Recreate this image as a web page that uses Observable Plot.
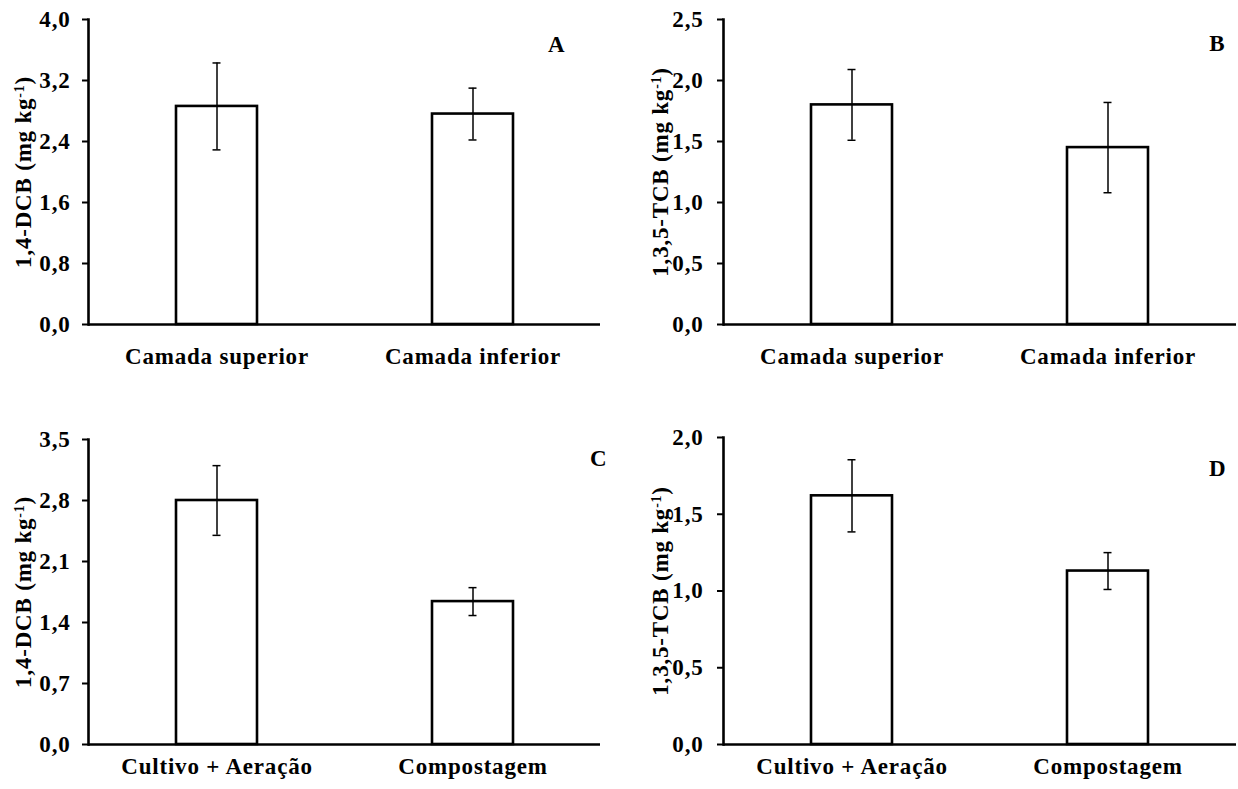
<!DOCTYPE html>
<html>
<head>
<meta charset="utf-8">
<script src="https://cdn.jsdelivr.net/npm/d3@7"></script>
<script src="https://cdn.jsdelivr.net/npm/@observablehq/plot@0.6"></script>
<style>
  body { margin: 0; background: white; }
  #wrap { position: relative; width: 1238px; height: 789px; background: white; overflow: hidden; }
  .panel { position: absolute; }
</style>
</head>
<body>
<div id="wrap"></div>
<script>
// ---- data ----
const categoriesTop = ["Camada superior", "Camada inferior"];
const categoriesBottom = ["Cultivo + Aeração", "Compostagem"];

const valuesA = [2.86, 2.76];
const errorsA = [0.57, 0.34];
const valuesB = [1.80, 1.45];
const errorsB = [0.29, 0.37];
const valuesC = [2.80, 1.64];
const errorsC = [0.40, 0.16];
const valuesD = [1.62, 1.13];
const errorsD = [0.235, 0.12];

const ticksA = [0, 0.8, 1.6, 2.4, 3.2, 4.0];
const ticksB = [0, 0.5, 1.0, 1.5, 2.0, 2.5];
const ticksC = [0, 0.7, 1.4, 2.1, 2.8, 3.5];
const ticksD = [0, 0.5, 1.0, 1.5, 2.0];

const labelDCB = "1,4-DCB (mg kg-1)";
const labelTCB = "1,3,5-TCB (mg kg-1)";
const panelLetters = ["A", "B", "C", "D"];

const FONT = "'Liberation Serif', 'Times New Roman', serif";
const fmt = d => d.toFixed(1).replace(".", ",");

function panel(o) {
  const data = o.cats.map((c, i) => ({cat: c, v: o.values[i], e: o.errors[i]}));
  const plot = Plot.plot({
    width: o.width, height: o.height,
    marginLeft: o.ml, marginRight: o.mr, marginTop: o.mt, marginBottom: o.mb,
    style: {fontFamily: FONT, fontSize: "23px", fontWeight: "bold", color: "black",
            background: "white", overflow: "visible", letterSpacing: "0.8px"},
    x: {type: "band", domain: o.cats, paddingInner: 0.684, paddingOuter: 0.342},
    y: {domain: [0, o.ticks[o.ticks.length - 1]]},
    marks: [
      Plot.barY(data, {x: "cat", y: "v", fill: "white", stroke: "black", strokeWidth: 2.6}),
      Plot.ruleX(data, {x: "cat", y1: d => d.v - d.e, y2: d => d.v + d.e, stroke: "black", strokeWidth: 1.5}),
      Plot.tickY(data, {x: "cat", y: d => d.v + d.e, insetLeft: 36.5, insetRight: 36.5, stroke: "black", strokeWidth: 1.5}),
      Plot.tickY(data, {x: "cat", y: d => d.v - d.e, insetLeft: 36.5, insetRight: 36.5, stroke: "black", strokeWidth: 1.5}),
      Plot.axisY({ticks: o.ticks, tickFormat: fmt, tickSize: 6, tickPadding: o.tp, strokeWidth: 2,
                  label: o.label, labelAnchor: "center", labelOffset: o.lo, labelArrow: "none"}),
      Plot.axisX({tickSize: 0, tickPadding: o.xtp, label: null}),
      Plot.ruleY([0], {stroke: "black", strokeWidth: 2.6}),
      Plot.frame({anchor: "left", stroke: "black", strokeWidth: 2.6}),
      Plot.text([o.letter], {frameAnchor: "top-right", textAnchor: "end", lineAnchor: "top",
                 dx: o.ldx, dy: o.ldy, fontSize: 23, fontWeight: "bold"})
    ]
  });
  // superscript on the axis label
  d3.select(plot).selectAll('[aria-label="y-axis label"] text').each(function() {
    const t = d3.select(this);
    const s = t.text();
    const k = s.lastIndexOf("-1");
    if (k < 0) return;
    t.text(null);
    t.append("tspan").text(s.slice(0, k));
    t.append("tspan").attr("baseline-shift", "super").attr("font-size", "0.6em").text("-1");
    t.append("tspan").text(s.slice(k + 2));
  });
  const div = document.createElement("div");
  div.className = "panel";
  div.style.left = o.left + "px";
  div.style.top = o.top + "px";
  div.appendChild(plot);
  document.getElementById("wrap").appendChild(div);
}

panel({cats: categoriesTop, values: valuesA, errors: errorsA, ticks: ticksA, label: labelDCB, letter: panelLetters[0],
       left: 0, top: 0, width: 619, height: 379, ml: 88, mr: 19, mt: 19, mb: 55, tp: 12, lo: 74, xtp: 23, ldx: -35, ldy: 16});
panel({cats: categoriesTop, values: valuesB, errors: errorsB, ticks: ticksB, label: labelTCB, letter: panelLetters[1],
       left: 620, top: 0, width: 618, height: 379, ml: 103, mr: 2, mt: 19, mb: 55, tp: 14, lo: 72, xtp: 23, ldx: -11, ldy: 15});
panel({cats: categoriesBottom, values: valuesC, errors: errorsC, ticks: ticksC, label: labelDCB, letter: panelLetters[2],
       left: 0, top: 420, width: 619, height: 369, ml: 88, mr: 19, mt: 19, mb: 45, tp: 12, lo: 74, xtp: 13, ldx: 7, ldy: 10});
panel({cats: categoriesBottom, values: valuesD, errors: errorsD, ticks: ticksD, label: labelTCB, letter: panelLetters[3],
       left: 620, top: 420, width: 618, height: 369, ml: 103, mr: 2, mt: 17, mb: 45, tp: 14, lo: 72, xtp: 13, ldx: -10, ldy: 22});
</script>
</body>
</html>
